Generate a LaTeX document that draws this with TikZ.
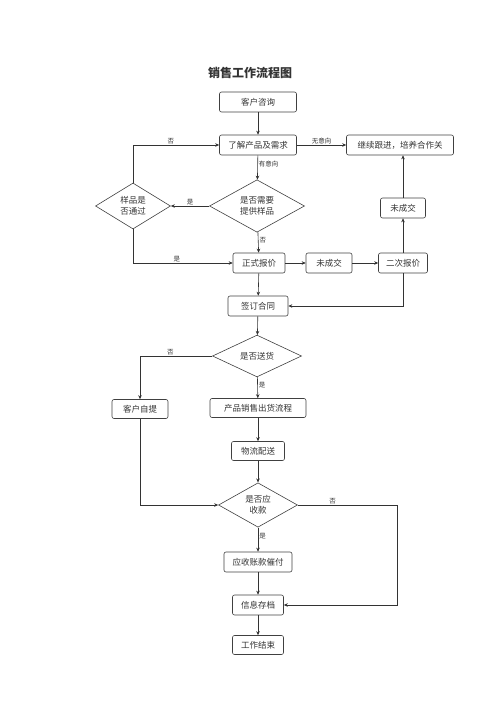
\documentclass[tikz,border=0pt]{standalone}
\usepackage{fontspec}
\newfontfamily\cjk{Noto Sans CJK SC}
\usetikzlibrary{shapes.geometric,arrows.meta,positioning}

\begin{document}
\begin{tikzpicture}[x=1pt, y=-1pt,
    every node/.style={font=\cjk\fontsize{8.5}{11}\selectfont, text=black!80},
    procbox/.style={rectangle, draw=black!75, line width=0.6pt,
        rounded corners=2pt, minimum height=20pt, inner sep=1pt},
    decide/.style={diamond, draw=black!75, line width=0.6pt,
        inner sep=0pt, align=center},
    lbl/.style={font=\cjk\fontsize{6.5}{7}\selectfont, inner sep=1pt},
    arr/.style={-{Stealth[length=4pt, width=3.5pt]}, line width=0.6pt, black!80},
    ln/.style={line width=0.6pt, black!80}
]
    \useasboundingbox (0,0) rectangle (500,708);

    \node[font=\cjk\fontsize{12}{14}\selectfont\bfseries] (title) at (250,73) {销售工作流程图};

    % upper part
    \node[procbox, minimum width=77pt] (zixun) at (258,102) {客户咨询};
    \node[procbox, minimum width=77pt] (liaojie) at (258,145) {了解产品及需求};
    \node[procbox, minimum width=107pt] (genjin) at (400,145) {继续跟进，培养合作关};
    \node[decide, minimum width=95pt, minimum height=46pt] (xuyao) at (257,206) {是否需要\\提供样品};
    \node[decide, minimum width=75pt, minimum height=46pt] (yangpin) at (133,206) {样品是\\否通过};
    \node[procbox, minimum width=45pt] (weicj2) at (403,208) {未成交};
    \node[procbox, minimum width=52pt] (baojia) at (259,263) {正式报价};
    \node[procbox, minimum width=46pt] (weicj1) at (329,263) {未成交};
    \node[procbox, minimum width=49pt] (erci) at (403,263) {二次报价};
    \node[procbox, minimum width=60pt] (hetong) at (258,306) {签订合同};

    % delivery part
    \node[decide, minimum width=89pt, minimum height=30pt] (songhuo) at (257,356) {是否送货};
    \node[procbox, minimum width=56pt, minimum height=19pt] (ziti) at (140,409) {客户自提};
    \node[procbox, minimum width=96pt, minimum height=19pt] (chuhuo) at (258,408) {产品销售出货流程};
    \node[procbox, minimum width=53pt, minimum height=19pt] (peisong) at (258,451) {物流配送};
    \node[decide, minimum width=79pt, minimum height=44pt] (yingshou) at (258,505) {是否应\\收款};
    \node[procbox, minimum width=68pt] (cuifu) at (258,562) {应收账款催付};
    \node[procbox, minimum width=51pt] (cundang) at (258,605) {信息存档};
    \node[procbox, minimum width=51pt, minimum height=19pt] (jieshu) at (258,645) {工作结束};
    \coordinate (rtcorner) at (397,505);

    % connectors
    \draw[arr] (zixun) -- (liaojie);
    \draw[arr] (liaojie) -- node[lbl, above] (l1) {无意向} (genjin);
    \draw[arr] (liaojie) -- node[lbl, right, pos=0.35] (l2) {有意向} (xuyao);
    \draw[arr] (xuyao) -- node[lbl, above] (l3) {是} (yangpin);
    \draw[arr] (yangpin.north) |- node[lbl, above, pos=0.72] (l4) {否} (liaojie.west);
    \draw[arr] (yangpin.south) |- node[lbl, above, pos=0.72] (l5) {是} (baojia.west);
    \draw[arr] (xuyao) -- node[lbl, right, pos=0.4] (l6) {否} (baojia);
    \draw[arr] (baojia) -- (weicj1);
    \draw[arr] (weicj1) -- (erci);
    \draw[arr] (erci) -- (weicj2);
    \draw[arr] (weicj2) -- (weicj2 |- genjin.south);
    \draw[arr] (baojia) -- (hetong);
    \draw[arr] (erci.south) |- (hetong.east);

    \draw[arr] (hetong) -- (songhuo);
    \draw[arr] (songhuo.west) -| node[lbl, above, pos=0.29] (l7) {否} (ziti.north);
    \draw[arr] (songhuo) -- node[lbl, right, pos=0.4] (l8) {是} (chuhuo);
    \draw[arr] (chuhuo) -- (peisong);
    \draw[arr] (peisong) -- (yingshou);
    \draw[arr] (ziti.south) |- (yingshou.west);
    \draw[ln] (yingshou.east) -- node[lbl, above, pos=0.35] (l9) {否} (rtcorner);
    \draw[arr] (rtcorner) |- (cundang.east);
    \draw[arr] (yingshou) -- node[lbl, right, pos=0.35] (l10) {是} (cuifu);
    \draw[arr] (cuifu) -- (cundang);
    \draw[arr] (cundang) -- (jieshu);
\end{tikzpicture}
\end{document}
